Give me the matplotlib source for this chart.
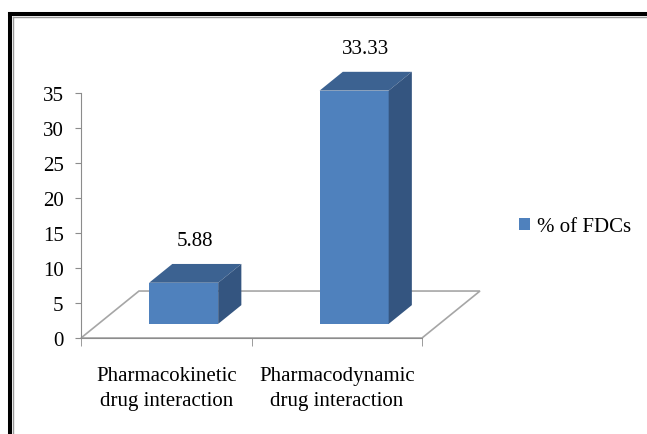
import matplotlib.pyplot as plt
from matplotlib.patches import Polygon, Rectangle, Patch
from matplotlib.lines import Line2D

plt.rcParams['font.family'] = ['Liberation Serif', 'DejaVu Serif']

# Data
categories = ['Pharmacokinetic\ndrug interaction', 'Pharmacodynamic\ndrug interaction']
values = [5.88, 33.33]
series_name = '% of FDCs'
yticks = [0, 5, 10, 15, 20, 25, 30, 35]

# 3D look: how far the floor recedes (x in category units, y in value units)
DX = 0.34
DY = 6.71
d0, d1 = 0.3, 0.7     # bar depth range, fraction of floor depth
bar_w = 0.405

front = '#4F81BD'
top = '#3C6291'
side = '#345580'
axis_grey = '#8C8C8C'
floor_grey = '#A6A6A6'

fig = plt.figure(figsize=(6.47, 4.35), dpi=100)
W, H = 647, 435
ax = fig.add_axes([81 / W, (H - 339) / H, (422 - 81) / W, 245 / H])
ax.set_xlim(0, 2)
ax.set_ylim(0, 35)

# floor
floor = Polygon([(0, 0), (2, 0), (2 + DX, DY), (DX, DY)], closed=True,
                fill=False, edgecolor=floor_grey, lw=1.2, clip_on=False, zorder=1)
ax.add_patch(floor)

ddx = (d1 - d0) * DX
ddy = (d1 - d0) * DY
for i, v in enumerate(values):
    x0 = i + 0.5 - bar_w / 2 + d0 * DX
    y0 = d0 * DY
    ax.bar(x0, v, width=bar_w, bottom=y0, align='edge', color=front,
           zorder=3, clip_on=False, label=series_name if i == 0 else None)
    ax.add_patch(Polygon([(x0, y0 + v), (x0 + bar_w, y0 + v),
                          (x0 + bar_w + ddx, y0 + v + ddy), (x0 + ddx, y0 + v + ddy)],
                         closed=True, facecolor=top, edgecolor='none',
                         clip_on=False, zorder=3))
    ax.add_patch(Polygon([(x0 + bar_w, y0), (x0 + bar_w + ddx, y0 + ddy),
                          (x0 + bar_w + ddx, y0 + v + ddy), (x0 + bar_w, y0 + v)],
                         closed=True, facecolor=side, edgecolor='none',
                         clip_on=False, zorder=3))
    ax.annotate(f'{v:.2f}', (x0 + bar_w / 2 + ddx / 2, y0 + v + ddy),
                xytext=(0, 17), textcoords='offset points',
                ha='center', va='center', fontsize=15, annotation_clip=False)

# axes styling
for s in ['top', 'right']:
    ax.spines[s].set_visible(False)
ax.spines['left'].set_color(axis_grey)
ax.spines['bottom'].set_color(axis_grey)
ax.set_facecolor('none')

ax.set_yticks(yticks)
ax.tick_params(axis='y', direction='out', length=4.5, color=axis_grey,
               labelsize=15, pad=8)
ax.set_xticks([0, 1, 2], minor=True)
ax.set_xticks([0.5, 1.5])
ax.set_xticklabels(categories)
ax.tick_params(axis='x', which='major', length=0, labelsize=15, pad=20)
ax.tick_params(axis='x', which='minor', direction='out', length=6, color=axis_grey)
plt.setp(ax.get_xticklabels(), linespacing=1.45)

fig.legend(handles=[Patch(facecolor=front, label=series_name)],
           loc='center left', bbox_to_anchor=(519 / W, 1 - 228 / H),
           frameon=False, fontsize=15, handlelength=0.55, handleheight=0.55,
           handletextpad=0.3, borderpad=0, borderaxespad=0)

# outer frame (left and top edges)
fig.add_artist(Line2D([10 / W, 10 / W], [0, 1 - 15 / H], color='black', lw=2.9,
                      transform=fig.transFigure, solid_capstyle='projecting'))
fig.add_artist(Line2D([10 / W, 1], [1 - 15 / H, 1 - 15 / H], color='black', lw=2.9,
                      transform=fig.transFigure, solid_capstyle='projecting'))
fig.add_artist(Line2D([12.8 / W, 12.8 / W], [0, 1 - 18 / H], color='#9A9A9A', lw=1.0,
                      transform=fig.transFigure))
fig.add_artist(Line2D([12.8 / W, 1], [1 - 18 / H, 1 - 18 / H], color='#9A9A9A', lw=1.0,
                      transform=fig.transFigure))

fig.savefig('out.png', dpi=100)
